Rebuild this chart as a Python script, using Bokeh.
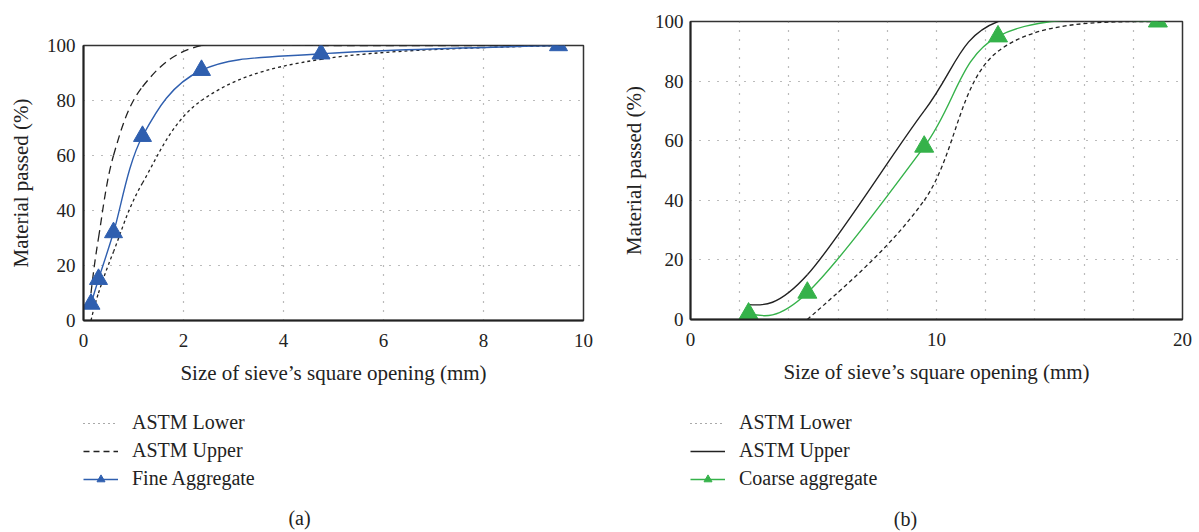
import numpy as np
from bokeh.plotting import figure
from bokeh.layouts import row, column
from bokeh.models import Legend, LegendItem, Label, FixedTicker, Range1d
from bokeh.embed import file_html
from bokeh.resources import INLINE

# ---------------- data ----------------
fine_sieve = [0.15, 0.3, 0.6, 1.18, 2.36, 4.75, 9.5]
fine_lower = [0, 10, 25, 50, 80, 95, 100]
fine_upper = [10, 30, 60, 85, 100, 100, 100]
fine_agg = [6, 15, 32, 67, 91, 97, 100]

coarse_lower_x = [4.75, 9.5, 12.5, 19]
coarse_lower = [0, 40, 90, 100]
coarse_upper_x = [2.36, 4.75, 9.5, 12.5, 19]
coarse_upper = [5, 15, 70, 100, 100]
coarse_x = [2.36, 4.75, 9.5, 12.5, 19]
coarse_agg = [2, 9, 58, 95, 100]

left_xticks = [0, 2, 4, 6, 8, 10]
right_xticks = [0, 10, 20]
right_xminor = [2, 4, 6, 8, 12, 14, 16, 18]
yticks = [0, 20, 40, 60, 80, 100]

FONT = "Liberation Serif"
TICK_FS = "19px"
TITLE_FS = "21px"
FS = "20px"
BLUE = "#2F5FAF"
GREEN = "#35B24A"
DARK = "#222222"
NAN = [float("nan")]


def smooth_segments(xs, ys):
    """Cubic Bezier control points (Catmull-Rom tangents, natural ends)."""
    P = np.column_stack([np.asarray(xs, float), np.asarray(ys, float)])
    n = len(P)
    T = np.zeros_like(P)
    for i in range(1, n - 1):
        T[i] = (P[i + 1] - P[i - 1]) / 2.0
    if n > 2:
        T[0] = (3 * (P[1] - P[0]) - T[1]) / 2.0
        T[-1] = (3 * (P[-1] - P[-2]) - T[-2]) / 2.0
    else:
        T[0] = T[-1] = P[1] - P[0]
    a, b = P[:-1], P[1:]
    c0 = a + T[:-1] / 3.0
    c1 = b - T[1:] / 3.0
    return dict(x0=a[:, 0], y0=a[:, 1], x1=b[:, 0], y1=b[:, 1],
                cx0=c0[:, 0], cy0=c0[:, 1], cx1=c1[:, 0], cy1=c1[:, 1])


def no_align(p):
    try:
        p.frame_align = False
    except Exception:
        pass


def base_fig(xmax, left, right, top, bottom, width, height):
    p = figure(width=width, height=height, output_backend="svg", toolbar_location=None,
               x_range=Range1d(0, xmax), y_range=Range1d(0, 100),
               min_border_left=left, min_border_right=right,
               min_border_top=top, min_border_bottom=bottom)
    no_align(p)
    p.background_fill_color = "white"
    p.border_fill_color = "white"
    p.outline_line_color = "#333333"
    p.outline_line_width = 1.5
    for ax in (p.xaxis[0], p.yaxis[0]):
        ax.axis_line_color = DARK
        ax.axis_line_width = 2
        ax.major_tick_line_color = None
        ax.minor_tick_line_color = None
        ax.major_label_text_font = FONT
        ax.major_label_text_font_size = TICK_FS
        ax.major_label_text_color = DARK
        ax.axis_label_text_font = FONT
        ax.axis_label_text_font_size = TITLE_FS
        ax.axis_label_text_font_style = "normal"
        ax.axis_label_text_color = DARK
    p.xaxis.axis_label = "Size of sieve\u2019s square opening (mm)"
    p.yaxis.axis_label = "Material passed (%)"
    p.yaxis.ticker = FixedTicker(ticks=yticks)
    p.xaxis.major_label_standoff = 7
    p.xaxis.axis_label_standoff = 11
    for g in (p.xgrid[0], p.ygrid[0]):
        g.grid_line_color = "#777777"
        g.grid_line_dash = "1 8"
        g.grid_line_width = 1.2
    return p


def legend_fig(width, height):
    q = figure(width=width, height=height, output_backend="svg", toolbar_location=None,
               x_range=Range1d(0, 1), y_range=Range1d(0, 1),
               x_axis_location=None, y_axis_location=None, min_border=0)
    no_align(q)
    q.outline_line_color = None
    q.grid.visible = False
    q.background_fill_color = "white"
    q.border_fill_color = "white"
    return q


def make_legend(q, items, loc):
    lg = Legend(items=items, location=loc, orientation="vertical",
                border_line_color=None, background_fill_alpha=0,
                label_text_font=FONT, label_text_font_size=FS, label_text_color=DARK,
                glyph_width=35, glyph_height=20, label_height=20, spacing=5,
                padding=0, margin=0, label_standoff=14)
    q.add_layout(lg)


# ---------------- left panel (a) ----------------
p1 = base_fig(10, 83, 17, 45, 70, 600, 390)
p1.xaxis.ticker = FixedTicker(ticks=left_xticks)
p1.xgrid.ticker = FixedTicker(ticks=left_xticks)
p1.yaxis.major_label_standoff = 2
p1.yaxis.axis_label_standoff = 11

p1.bezier(**smooth_segments(fine_sieve, fine_lower), line_color=DARK,
          line_width=1.3, line_dash="3 3")
p1.bezier(**smooth_segments(fine_sieve, fine_upper), line_color=DARK,
          line_width=1.3, line_dash="8 5")
p1.bezier(**smooth_segments(fine_sieve, fine_agg), line_color=BLUE, line_width=1.4)
p1.scatter(fine_sieve, fine_agg, marker="triangle", size=18,
           fill_color=BLUE, line_color=BLUE)

q1 = legend_fig(600, 142)
l_low = q1.line(NAN, NAN, line_color="#555555", line_width=1.2, line_dash="1 4")
l_up = q1.line(NAN, NAN, line_color=DARK, line_width=1.3, line_dash="6 4")
l_fa = q1.line(NAN, NAN, line_color=BLUE, line_width=1.4)
s_fa = q1.scatter(NAN, NAN, marker="triangle", size=7, fill_color=BLUE, line_color=BLUE)
make_legend(q1, [LegendItem(label="ASTM Lower", renderers=[l_low]),
                 LegendItem(label="ASTM Upper", renderers=[l_up]),
                 LegendItem(label="Fine Aggregate", renderers=[l_fa, s_fa])], (83, 42))
q1.add_layout(Label(x=299, y=15, x_units="screen", y_units="screen", text="(a)",
                    text_align="center", text_baseline="middle", text_font=FONT,
                    text_font_size=FS, text_color=DARK))

# ---------------- right panel (b) ----------------
p2 = base_fig(20, 90, 17, 21, 71, 599, 390)
p2.xaxis.ticker = FixedTicker(ticks=right_xticks, minor_ticks=right_xminor)
p2.xgrid.ticker = FixedTicker(ticks=right_xticks, minor_ticks=right_xminor)
p2.xgrid.minor_grid_line_color = "#777777"
p2.xgrid.minor_grid_line_dash = "1 8"
p2.xgrid.minor_grid_line_width = 1.2
p2.yaxis.major_label_standoff = 1
p2.yaxis.axis_label_standoff = 6

p2.bezier(**smooth_segments(coarse_lower_x, coarse_lower), line_color=DARK,
          line_width=1.3, line_dash="4 3")
p2.bezier(**smooth_segments(coarse_upper_x, coarse_upper), line_color=DARK,
          line_width=1.4)
p2.bezier(**smooth_segments(coarse_x, coarse_agg), line_color=GREEN, line_width=1.4)
p2.scatter(coarse_x, coarse_agg, marker="triangle", size=19,
           fill_color=GREEN, line_color=GREEN)

q2 = legend_fig(599, 142)
r_low = q2.line(NAN, NAN, line_color="#555555", line_width=1.2, line_dash="1 4")
r_up = q2.line(NAN, NAN, line_color=DARK, line_width=1.4)
r_ca = q2.line(NAN, NAN, line_color=GREEN, line_width=1.4)
s_ca = q2.scatter(NAN, NAN, marker="triangle", size=7, fill_color=GREEN, line_color=GREEN)
make_legend(q2, [LegendItem(label="ASTM Lower", renderers=[r_low]),
                 LegendItem(label="ASTM Upper", renderers=[r_up]),
                 LegendItem(label="Coarse aggregate", renderers=[r_ca, s_ca])], (90, 42))
q2.add_layout(Label(x=305, y=14, x_units="screen", y_units="screen", text="(b)",
                    text_align="center", text_baseline="middle", text_font=FONT,
                    text_font_size=FS, text_color=DARK))

layout = row(column(p1, q1, spacing=0), column(p2, q2, spacing=0), spacing=0)
open("out.html", "w").write(file_html(layout, INLINE))
